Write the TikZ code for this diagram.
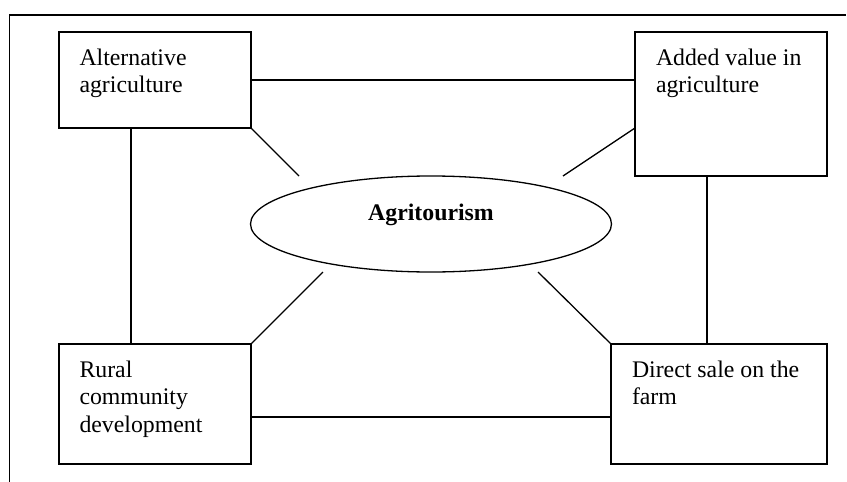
\documentclass[tikz,border=0pt]{standalone}
\usepackage{fontspec}
\setmainfont{Liberation Serif}
\usetikzlibrary{shapes.geometric,calc}
\begin{document}
\begin{tikzpicture}[x=1pt,y=-1pt,
  every node/.style={inner sep=0pt,outer sep=0pt},
  conceptbox/.style={draw,line width=1.3pt,rectangle,anchor=north west},
  boxtext/.style={anchor=base west,align=left,font=\fontsize{23.8}{27.4}\selectfont},
  link/.style={line width=1.3pt}]
  \useasboundingbox (0,0) rectangle (847,482);
  % page frame (open at right and bottom)
  \draw[line width=1.6pt] (9.5,482) -- (9.5,15) -- (846,15);

  % the four concept boxes
  \node[conceptbox,minimum width=192pt,minimum height=96pt]  (alt)    at (59,32)  {};
  \node[conceptbox,minimum width=192pt,minimum height=144pt] (added)  at (635,32) {};
  \node[conceptbox,minimum width=192pt,minimum height=120pt] (rural)  at (59,344) {};
  \node[conceptbox,minimum width=216pt,minimum height=120pt] (direct) at (611,344) {};

  % box labels, placed by the baseline of their last line
  \node[boxtext] (altT)    at (79.5,92.9)  {Alternative\\agriculture};
  \node[boxtext] (addedT)  at (656,92.9)   {Added value in\\agriculture};
  \node[boxtext] (ruralT)  at (79.5,432.3) {Rural\\community\\development};
  \node[boxtext] (directT) at (632,404.9)  {Direct sale on the\\farm};

  % central ellipse
  \node[draw,line width=1.3pt,ellipse,minimum width=361pt,minimum height=96pt] (agri) at (431,224) {};
  \node[anchor=base,font=\fontsize{23.8}{27.4}\selectfont\bfseries] (agriT) at (431,220) {Agritourism};

  % free ends of the spokes, short of the ellipse
  \coordinate (s1) at (299,176);
  \coordinate (s2) at (563,176);
  \coordinate (s3) at (323,272);
  \coordinate (s4) at (538,272);

  % links between the boxes
  \draw[link] (alt.east) -- (alt.east -| added.west);
  \draw[link] ($(alt.south west)+(72,0)$) coordinate (v1) -- (v1 |- rural.north);
  \draw[link] ($(added.south west)+(72,0)$) coordinate (v2) -- (v2 |- direct.north);
  \draw[link] ($(rural.south east)+(0,-47)$) coordinate (h2) -- (h2 -| direct.west);

  % spokes towards the ellipse
  \draw[link] (alt.south east) -- (s1);
  \draw[link] ($(added.north west)+(0,96)$) -- (s2);
  \draw[link] (rural.north east) -- (s3);
  \draw[link] (direct.north west) -- (s4);
\end{tikzpicture}
\end{document}
